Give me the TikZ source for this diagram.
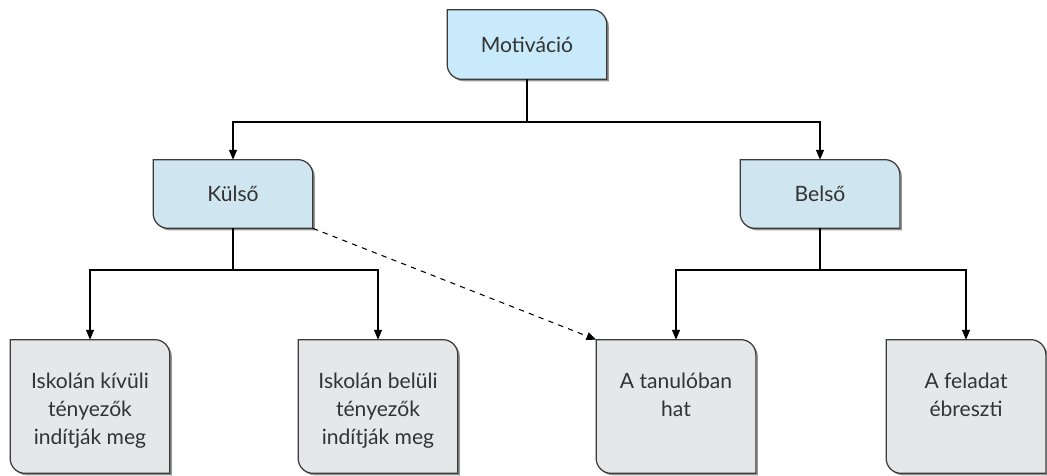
\documentclass[tikz,border=0pt]{standalone}
\usepackage{fontspec}
\setmainfont{Lato}
\usetikzlibrary{arrows.meta}

\pgfdeclarelayer{background}
\pgfsetlayers{background,main}

\definecolor{topfill}{RGB}{200,234,250}
\definecolor{midfill}{RGB}{207,229,240}
\definecolor{lowfill}{RGB}{230,231,233}
\definecolor{cardline}{RGB}{58,58,58}
\definecolor{cardshade}{RGB}{150,150,150}
\definecolor{cardtext}{RGB}{51,51,51}

\newcommand{\cardr}{0.3cm}
% card with rounded top-right and bottom-left corners, plus a thin shadow
\newcommand{\cardpath}[1]{(#1.north west) -- ([xshift=-\cardr]#1.north east)
  arc[start angle=90, end angle=0, radius=\cardr] -- (#1.south east)
  -- ([xshift=\cardr]#1.south west)
  arc[start angle=270, end angle=180, radius=\cardr] -- cycle}
\newcommand{\card}[2]{%
  \fill[cardshade, transform canvas={shift={(0.04,-0.04)}}] \cardpath{#1};
  \draw[draw=cardline, line width=0.7pt, fill=#2] \cardpath{#1};}
\newcommand{\lowtext}[1]{\parbox[t][1.36cm][t]{3.1cm}{\centering\baselineskip=0.56cm #1}}

\begin{document}
\begin{tikzpicture}
\useasboundingbox (0,0) rectangle (20.94,-9.50);

\begin{scope}[every node/.style={rectangle, text=cardtext, minimum width=3.18cm,
                                 inner sep=0pt, font=\fontsize{12}{16}\selectfont}]
    \node (mot) at (10.54, -0.89) [minimum height=1.38cm] {Motiváció};

    \node (kulso) at (4.66, -3.88) [minimum height=1.36cm] {Külső};
    \node (belso) at (16.40, -3.88) [minimum height=1.36cm] {Belső};

    \node (kivul) at (1.80, -8.13) [inner ysep=0.65cm] {\lowtext{Iskolán kívüli\\tényezők\\indítják meg}};
    \node (belul) at (7.56, -8.13) [inner ysep=0.65cm] {\lowtext{Iskolán belüli\\tényezők\\indítják meg}};
    \node (tanulo) at (13.52, -8.13) [inner ysep=0.65cm] {\lowtext{A tanulóban\\hat}};
    \node (feladat) at (19.32, -8.13) [inner ysep=0.65cm] {\lowtext{A feladat\\ébreszti}};
\end{scope}

\begin{pgfonlayer}{background}
    \card{mot}{topfill}
    \card{kulso}{midfill}
    \card{belso}{midfill}
    \card{kivul}{lowfill}
    \card{belul}{lowfill}
    \card{tanulo}{lowfill}
    \card{feladat}{lowfill}
\end{pgfonlayer}

\coordinate (topbus) at (10.54, -2.44);
\coordinate (leftbus) at (4.66, -5.40);
\coordinate (rightbus) at (16.40, -5.40);

\begin{scope}[>={Triangle[length=5.5pt, width=4.5pt]}, draw=black, line width=0.6pt]
    \draw (mot.south) -- (topbus);
    \draw [->] (topbus) -| (kulso.north);
    \draw [->] (topbus) -| (belso.north);

    \draw (kulso.south) -- (leftbus);
    \draw [->] (leftbus) -| (kivul.north);
    \draw [->] (leftbus) -| (belul.north);

    \draw (belso.south) -- (rightbus);
    \draw [->] (rightbus) -| (tanulo.north);
    \draw [->] (rightbus) -| (feladat.north);

    \draw [->, dashed] (kulso.south east) -- (tanulo.north west);
\end{scope}
\end{tikzpicture}
\end{document}
